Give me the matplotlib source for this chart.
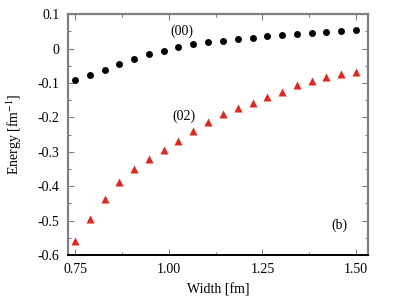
import numpy as np
import matplotlib.pyplot as plt

width = [0.750, 0.789, 0.829, 0.868, 0.908, 0.947, 0.987, 1.026, 1.066, 1.105,
         1.145, 1.184, 1.224, 1.263, 1.303, 1.342, 1.382, 1.421, 1.461, 1.500]
energy00 = [-0.092, -0.076, -0.061, -0.044, -0.030, -0.016, -0.006, 0.004, 0.012, 0.018,
            0.023, 0.027, 0.031, 0.035, 0.039, 0.042, 0.045, 0.048, 0.050, 0.053]
energy02 = [-0.559, -0.496, -0.438, -0.388, -0.349, -0.320, -0.295, -0.269, -0.240, -0.214,
            -0.191, -0.174, -0.159, -0.142, -0.125, -0.107, -0.093, -0.082, -0.073, -0.067]
xticks = [0.75, 1.00, 1.25, 1.50]
xticklabels = ["0.75", "1.00", "1.25", "1.50"]
yticks = [-0.6, -0.5, -0.4, -0.3, -0.2, -0.1, 0, 0.1]
yticklabels = ["-0.6", "-0.5", "-0.4", "-0.3", "-0.2", "-0.1", "0", "0.1"]

plt.rcParams['font.family'] = ['Liberation Serif', 'DejaVu Serif']
plt.rcParams['mathtext.fontset'] = 'stix'

fig = plt.figure(figsize=(4, 3), dpi=100)
ax = fig.add_axes([0.17, 0.15, 0.75, 0.803])

ax.plot(width, energy00, 'o', color='black', ms=5, mec='none')
ax.plot(width, energy02, '^', color='#e8231a', ms=5.5, mec='none')

ax.set_xlim(0.731, 1.532)
ax.set_ylim(-0.6, 0.1)
ax.set_xticks(xticks)
ax.set_xticklabels(xticklabels)
ax.set_yticks(yticks)
ax.set_yticklabels(yticklabels)
ax.set_xticks([0.875, 1.125, 1.375], minor=True)
ax.set_yticks(np.arange(-0.55, 0.1, 0.1), minor=True)

grey = '#808080'
for side in ['left', 'top', 'right']:
    ax.spines[side].set_color(grey)
    ax.spines[side].set_linewidth(1.6)
ax.spines['bottom'].set_color('black')
ax.spines['bottom'].set_linewidth(1.4)
ax.tick_params(which='both', direction='in', top=True, right=True, color=grey,
               labelsize=10, pad=6)
ax.tick_params(which='major', length=4, width=0.8)
ax.tick_params(which='minor', length=2.5, width=0.8)

ax.set_xlabel("Width [fm]", fontsize=10, labelpad=5)
ax.set_ylabel("Energy [fm$^{-1}$]", fontsize=10, labelpad=10)

ax.text(1.035, 0.049, "(00)", fontsize=10, ha='center', va='center')
ax.text(1.04, -0.197, "(02)", fontsize=10, ha='center', va='center')
ax.text(1.455, -0.513, "(b)", fontsize=10, ha='center', va='center')

fig.savefig("out.png", dpi=100)
